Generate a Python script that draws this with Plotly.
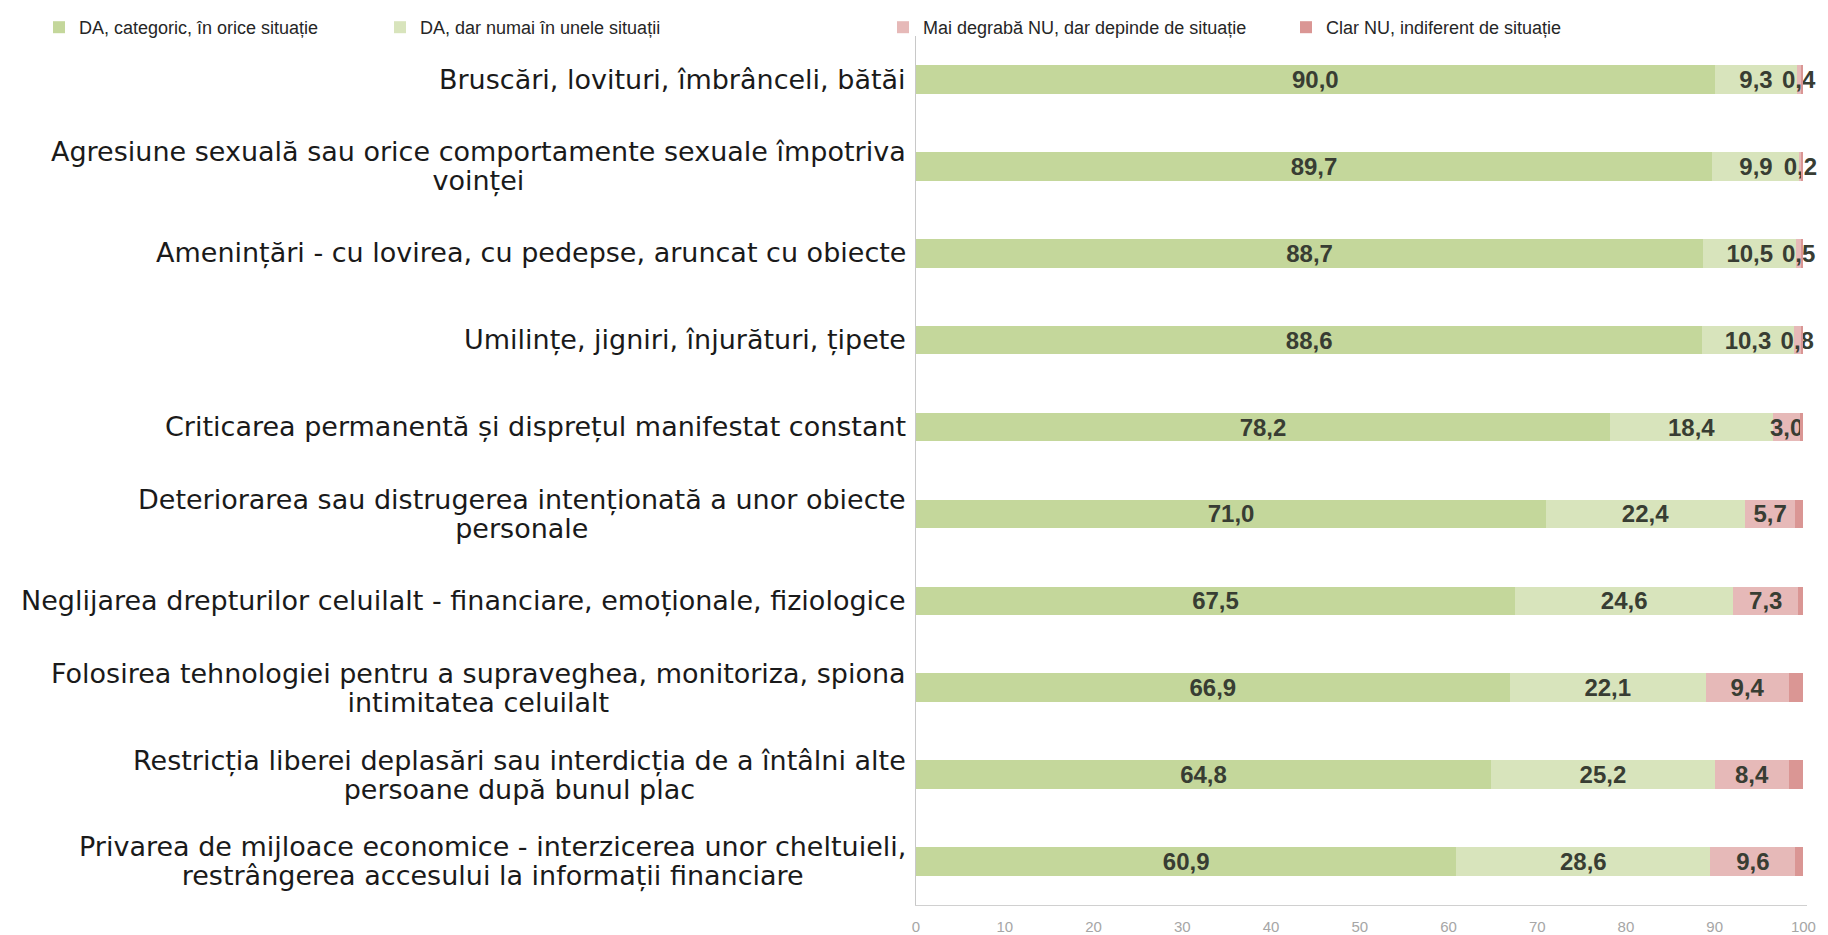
import plotly.graph_objects as go

# categories (top to bottom), <br> marks the line breaks of the original labels
categorii = [
    "Bruscări, lovituri, îmbrânceli, bătăi",
    "Agresiune sexuală sau orice comportamente sexuale împotriva<br>voinței",
    "Amenințări - cu lovirea, cu pedepse, aruncat cu obiecte",
    "Umilințe, jigniri, înjurături, țipete",
    "Criticarea permanentă și disprețul manifestat constant",
    "Deteriorarea sau distrugerea intenționată a unor obiecte<br>personale",
    "Neglijarea drepturilor celuilalt - financiare, emoționale, fiziologice",
    "Folosirea tehnologiei pentru a supraveghea, monitoriza, spiona<br>intimitatea celuilalt",
    "Restricția liberei deplasări sau interdicția de a întâlni alte<br>persoane după bunul plac",
    "Privarea de mijloace economice - interzicerea unor cheltuieli,<br>restrângerea accesului la informații financiare",
]

da_categoric = [90.0, 89.7, 88.7, 88.6, 78.2, 71.0, 67.5, 66.9, 64.8, 60.9]
da_unele = [9.3, 9.9, 10.5, 10.3, 18.4, 22.4, 24.6, 22.1, 25.2, 28.6]
mai_degraba_nu = [0.4, 0.2, 0.5, 0.8, 3.0, 5.7, 7.3, 9.4, 8.4, 9.6]
clar_nu = [0.3, 0.2, 0.3, 0.3, 0.4, 0.9, 0.6, 1.6, 1.6, 0.9]

serii = [
    ("DA, categoric, în orice situație", da_categoric, "#c4d79b", True),
    ("DA, dar numai în unele situații", da_unele, "#d8e4bc", True),
    ("Mai degrabă NU, dar depinde de situație", mai_degraba_nu, "#e6b9b8", True),
    ("Clar NU, indiferent de situație", clar_nu, "#da9694", False),
]

FONT = "Liberation Sans, Arial, sans-serif"
LABEL_FONT = "DejaVu Sans, Liberation Sans, sans-serif"

# figure geometry (page body has an 8px margin)
W, H = 1820, 927
ML, MR, MT, MB = 908, 21, 28, 30
PW, PH = W - ML - MR, H - MT - MB

# where each legend entry starts, in window pixels
legend_px = [39, 380, 883, 1286]

fig = go.Figure()
for i, (nume, vals, culoare, eticheta) in enumerate(serii):
    fig.add_trace(go.Bar(
        x=vals,
        y=categorii,
        orientation="h",
        name=nume,
        marker=dict(color=culoare, line=dict(width=0)),
        width=0.33,
        texttemplate="<b>%{x:.1f}</b>" if eticheta else None,
        textposition="inside" if eticheta else "none",
        insidetextanchor="middle",
        textangle=0,
        cliponaxis=False,
        textfont=dict(family=FONT, size=24, color="#383d33"),
        legend="legend" if i == 0 else "legend%d" % (i + 1),
        hoverinfo="x+name",
    ))

legends = {}
for i, lx in enumerate(legend_px):
    key = "legend" if i == 0 else "legend%d" % (i + 1)
    legends[key] = dict(
        orientation="h",
        x=(lx - 8 - ML) / PW, y=1 + (MT - 1) / PH,
        xanchor="left", yanchor="top",
        font=dict(family=FONT, size=18, color="#262626"),
        bgcolor="rgba(0,0,0,0)",
        itemwidth=30,
    )

# category labels: centred lines, right-aligned against the axis, tight line spacing
for c in categorii:
    linii = "<br>".join("<span style='font-size:27px'>%s</span>" % l for l in c.split("<br>"))
    fig.add_annotation(
        x=0, xref="paper", y=c, yref="y",
        text=linii, showarrow=False,
        xanchor="right", align="center", xshift=-8,
        font=dict(family=LABEL_FONT, size=22, color="#1a1a1a"),
    )

fig.update_layout(
    width=W, height=H,
    showlegend=True,
    barmode="stack",
    separators=",.",
    plot_bgcolor="white", paper_bgcolor="white",
    margin=dict(l=ML, r=MR, t=MT, b=MB, autoexpand=False),
    uniformtext=dict(minsize=24, mode="show"),
    xaxis=dict(
        range=[0, 100.4], dtick=10, tick0=0,
        showgrid=False, zeroline=False,
        showline=True, linecolor="#d0d0d0", linewidth=1,
        ticks="outside", ticklen=8, tickcolor="rgba(0,0,0,0)",
        tickfont=dict(family=FONT, size=15, color="#a6a6a6"),
    ),
    yaxis=dict(
        type="category", autorange="reversed",
        showticklabels=False, showgrid=False, zeroline=False,
        showline=True, linecolor="#c8c8c8", linewidth=1,
    ),
    **legends,
)

fig.write_html("out.html")
